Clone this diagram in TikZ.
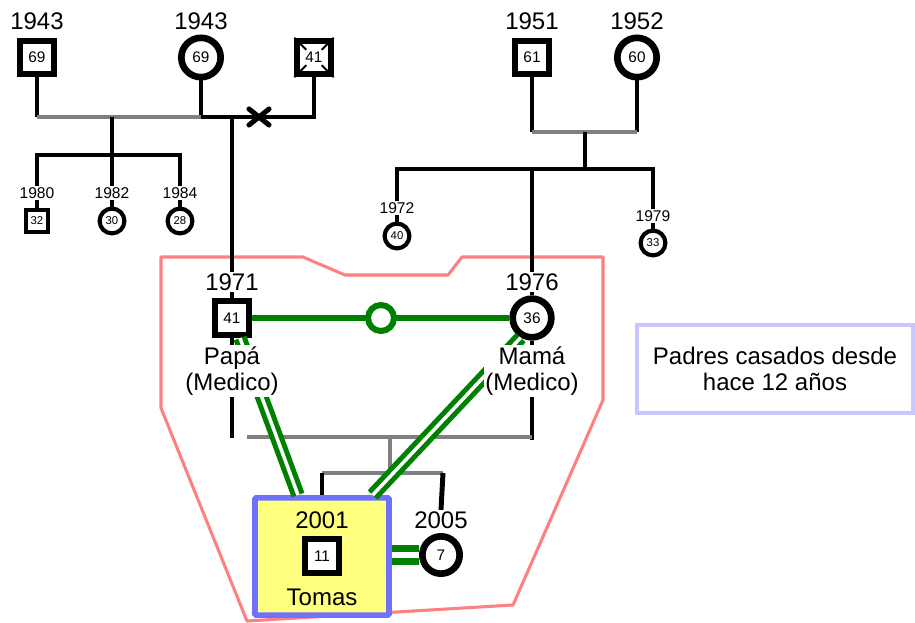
\documentclass[tikz,border=0pt]{standalone}
\usepackage{fontspec}
\setmainfont{Liberation Sans}
\definecolor{grn}{HTML}{008000}
\definecolor{sibgray}{HTML}{808080}
\definecolor{pinkline}{HTML}{FF8080}
\definecolor{tomasblue}{HTML}{7070FF}
\definecolor{tomasfill}{HTML}{FFFF80}
\definecolor{notegray}{HTML}{C8C8FF}
\begin{document}
\begin{tikzpicture}[x=0.75pt,y=-0.75pt,
  kin/.style={line width=3.7pt, black},
  sibline/.style={line width=3.7pt, sibgray},
  male/.style={draw, line width=4.6pt, fill=white, minimum size=25pt, inner sep=0pt,
    font=\fontsize{11.5}{12}\selectfont},
  female/.style={circle, draw, line width=5pt, fill=white, minimum size=29.5pt, inner sep=0pt,
    font=\fontsize{11.5}{12}\selectfont},
  smale/.style={draw, line width=3.1pt, fill=white, minimum size=17pt, inner sep=0pt,
    font=\fontsize{8.5}{9}\selectfont},
  sfemale/.style={circle, draw, line width=3.1pt, fill=white, minimum size=18.6pt, inner sep=0pt,
    font=\fontsize{8.5}{9}\selectfont},
  bigyear/.style={fill=white, inner sep=1pt, font=\fontsize{18}{19.5}\selectfont},
  smallyear/.style={fill=white, inner sep=1pt, font=\fontsize{11.7}{12}\selectfont},
  marriage/.style={line width=4.5pt, grn},
  bond/.style={draw=grn, double=white, line width=3.8pt, double distance=2.6pt},
]
\useasboundingbox (0,0) rectangle (915,623);

% household outline
\draw[pinkline, line width=2.3pt, line join=round]
  (161,257) -- (303,257) -- (345,275) -- (448,275) -- (462,257) -- (603,257)
  -- (603,400) -- (513,605) -- (247,621) -- (161,408) -- cycle;

% ---------- paternal grandparents ----------
\node[male]   (gf1) at (37,57.5)  {69};
\node[female] (gm1) at (201,57.5) {69};
\node[male]   (ex)  at (314,57.5) {41};
\foreach \a/\dx/\dy in {north west/1/1, north east/-1/1, south west/1/-1, south east/-1/-1}
  \draw[line width=1.5pt] (ex.\a) -- ++(\dx*12,\dy*12);

\coordinate (pA) at (37,117);
\coordinate (pB) at (201,117);
\coordinate (pC) at (314,117);
\coordinate (pD) at (232,117);
\coordinate (pE) at (112,117);
\coordinate (pF) at (112,155);
\coordinate (pG) at (37,155);
\coordinate (pH) at (180,155);
\coordinate (xm) at (259,117);

\node[smale]   (c1) at (37,221)  {32};
\node[sfemale] (c2) at (112,221) {30};
\node[sfemale] (c3) at (180,221) {28};

\draw[kin] (gf1.south) -- (pA);
\draw[kin] (gm1.south) -- (pB) -- (pC) -- (ex.south);
\draw[sibline] (pA) -- (pB);
\draw[kin] (pE) -- (pF);
\draw[kin, line join=miter] (c1.north) -- (pG) -- (pH) -- (c3.north);
\draw[kin] (pF) -- (c2.north);
\draw[line width=3.8pt, line cap=round] (xm) ++(-10,-8) -- ++(20,16);
\draw[line width=3.8pt, line cap=round] (xm) ++(10,-8) -- ++(-20,16);

\node[bigyear] (gf1y) at (37,21)  {1943};
\node[bigyear] (gm1y) at (201,21) {1943};
\node[smallyear] (c1y) at (37,193)  {1980};
\node[smallyear] (c2y) at (112,193) {1982};
\node[smallyear] (c3y) at (180,193) {1984};

% ---------- maternal grandparents ----------
\node[male]   (gf2) at (532,57.5) {61};
\node[female] (gm2) at (637,57.5) {60};
\node[sfemale] (a1) at (397,236) {40};
\node[sfemale] (a2) at (653,243) {33};

\coordinate (mA) at (532,132);
\coordinate (mB) at (637,132);
\coordinate (mC) at (585,132);
\coordinate (mD) at (585,169);
\coordinate (mE) at (397,169);
\coordinate (mF) at (653,169);
\coordinate (mG) at (532,169);

\draw[kin] (gf2.south) -- (mA);
\draw[kin] (gm2.south) -- (mB);
\draw[sibline] (mA) -- (mB);
\draw[kin] (mC) -- (mD);
\draw[kin, line join=miter] (a1.north) -- (mE) -- (mF) -- (a2.north);

\node[bigyear] (gf2y) at (532,21) {1951};
\node[bigyear] (gm2y) at (637,21) {1952};
\node[smallyear] (a1y) at (397,208) {1972};
\node[smallyear] (a2y) at (653,216) {1979};

% ---------- parents ----------
\node[male, minimum size=25.5pt] (papa) at (232,318) {41};
\node[female, minimum size=29pt] (mama) at (532,318) {36};

\draw[kin] (pD) -- (papa.north);
\draw[kin] (mG) -- (mama.north);

\draw[marriage] (papa.east) -- (mama.west);
\node[circle, draw=grn, line width=4.5pt, fill=white, minimum size=19.5pt, inner sep=0pt] (ring) at (381,318) {};

% ---------- children of the parents ----------
\node[draw=tomasblue, fill=tomasfill, line width=4.2pt, rounded corners=1pt,
      minimum width=100.5pt, minimum height=88pt] (tbox) at (322,556.5) {};
\node[male, minimum size=25.5pt] (tomas) at (322,556) {11};
\node[female, minimum size=28pt] (sis) at (441,555) {7};

\coordinate (kB) at (232,438);
\coordinate (kC) at (247,437);
\coordinate (kD) at (532,437);
\coordinate (kE) at (390,437);
\coordinate (kF) at (390,473);
\coordinate (tA) at (322,473);
\coordinate (tB) at (443,473);

\draw[kin] (papa.south) -- (kB);
\draw[kin] (mama.south) -- ([yshift=-2pt]kD);
\draw[sibline] (kC) -- (kD);
\draw[sibline] (kE) -- (kF);
\draw[sibline] (tA) -- (tB);
\draw[kin] (tA) -- (tbox.north);

\node[bigyear] (sisy) at (441,520) {2005};
\draw[kin] (tB) -- (sisy.north);

% close bonds
\draw[bond] ([xshift=6pt]papa.south) -- ([xshift=-18pt]tbox.north);
\draw[bond] (mama.240) -- ([xshift=38pt]tbox.north);
\draw[draw=grn, double=white, line width=5pt, double distance=5pt]
  (sis.west -| tbox.east) -- (sis.west);

% labels
\node[bigyear] (papay) at (232,282) {1971};
\node[bigyear] (mamay) at (532,282) {1976};
\node[bigyear, align=center] (papal) at (232,371) {Papá\\(Medico)};
\node[bigyear, align=center] (mamal) at (532,371) {Mamá\\(Medico)};
\node[font=\fontsize{18}{19.5}\selectfont] (tomasy) at (322,520) {2001};
\node[font=\fontsize{18}{19.5}\selectfont] (tomasn) at (322,597) {Tomas};

% note
\node[draw=notegray, line width=3pt, fill=white, minimum width=207pt, minimum height=66pt,
      align=center, font=\fontsize{18}{19.5}\selectfont] (note) at (775,369)
  {Padres casados desde\\hace 12 años};
\end{tikzpicture}
\end{document}
